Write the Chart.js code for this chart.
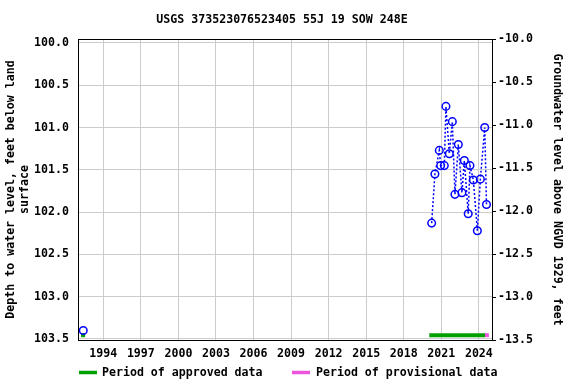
<!DOCTYPE html>
<html>
<head>
<meta charset="utf-8">
<script src="https://cdn.jsdelivr.net/npm/chart.js@4"></script>
<style>
  html, body { margin: 0; padding: 0; background: #fff; }
  #box { width: 576px; height: 384px; position: relative; }
</style>
</head>
<body>
<div id="box"><canvas id="c"></canvas></div>
<script>
// Niveaux d'eau — puits USGS 373523076523405 (55J 19 SOW 248E)
var TITRE = "USGS 373523076523405 55J 19 SOW 248E";
var ANNEES_TICKS = [1994, 1997, 2000, 2003, 2006, 2009, 2012, 2015, 2018, 2021, 2024];
var PROF_TICKS = [100.0, 100.5, 101.0, 101.5, 102.0, 102.5, 103.0, 103.5];
var ALT_TICKS = [-10.0, -10.5, -11.0, -11.5, -12.0, -12.5, -13.0, -13.5];

// mesure isolée du début
var ANCIEN_DATES = [1992.40];
var ANCIEN_PROF = [103.40];
// série récente (reliée en pointillé)
var DATES = [2020.23, 2020.49, 2020.84, 2020.95, 2021.24, 2021.37, 2021.64, 2021.88, 2022.09, 2022.36,
             2022.65, 2022.84, 2023.15, 2023.29, 2023.56, 2023.88, 2024.12, 2024.47, 2024.61];
var PROF = [102.13, 101.55, 101.27, 101.45, 101.45, 100.75, 101.31, 100.93, 101.79, 101.20,
            101.77, 101.39, 102.02, 101.45, 101.62, 102.22, 101.61, 101.00, 101.91];

// périodes approuvées / provisoires (début, fin)
var APPROUVE = [[1992.22, 1992.55], [2020.04, 2024.49]];
var PROVISOIRE = [[2024.49, 2024.80]];
var NIVEAU_BANDE = 103.455;
var LEGENDE = ["Period of approved data", "Period of provisional data"];

var BLEU = "#0000ff", VERT = "#00a000", ROSE = "#ee55dd", GRILLE = "#cccccc";
var POLICE = "'DejaVu Sans Mono', monospace";

function pts(xs, ys) { return xs.map(function (x, i) { return { x: x, y: ys[i] }; }); }
function bande(p, coul) {
  return { data: [{ x: p[0], y: NIVEAU_BANDE }, { x: p[1], y: NIVEAU_BANDE }], borderColor: coul, borderWidth: 4,
           pointRadius: 0, showLine: true, borderCapStyle: "butt", yAxisID: "y", order: 5 };
}

var datasets = [];
APPROUVE.forEach(function (p) { datasets.push(bande(p, VERT)); });
PROVISOIRE.forEach(function (p) { datasets.push(bande(p, ROSE)); });
datasets.push({ data: pts(ANCIEN_DATES, ANCIEN_PROF), showLine: false, pointRadius: 3.8, pointBorderWidth: 1.5,
  pointBorderColor: BLEU, pointBackgroundColor: "rgba(0,0,0,0)", yAxisID: "y", order: 1 });
datasets.push({ data: pts(DATES, PROF), showLine: true, borderColor: BLEU, borderWidth: 1.5, borderDash: [2, 2],
  pointRadius: 3.8, pointBorderWidth: 1.5, pointBorderColor: BLEU, pointBackgroundColor: "rgba(0,0,0,0)",
  yAxisID: "y", order: 1 });

var police = { family: POLICE, size: 11.6, weight: "bold" };

var habillage = {
  id: "habillage",
  afterDraw: function (ch) {
    var ctx = ch.ctx, a = ch.chartArea;
    ctx.save();
    ctx.strokeStyle = "#000"; ctx.lineWidth = 1;
    ctx.strokeRect(Math.round(a.left) + 0.5, Math.round(a.top) + 0.5, Math.round(a.right - a.left), Math.round(a.bottom - a.top));
    ctx.fillStyle = "#000";
    ctx.font = "bold 11.6px " + POLICE;
    ctx.textAlign = "center"; ctx.textBaseline = "middle";
    ctx.fillText(TITRE, 282, 20);
    // légende
    ctx.textAlign = "left";
    ctx.lineWidth = 3.5;
    ctx.strokeStyle = VERT; ctx.beginPath(); ctx.moveTo(79, 372.5); ctx.lineTo(97, 372.5); ctx.stroke();
    ctx.fillText(LEGENDE[0], 102, 373);
    ctx.strokeStyle = ROSE; ctx.beginPath(); ctx.moveTo(292, 372.5); ctx.lineTo(310, 372.5); ctx.stroke();
    ctx.fillText(LEGENDE[1], 316, 373);
    ctx.restore();
  }
};

new Chart(document.getElementById("c"), {
  type: "scatter",
  data: { datasets: datasets },
  plugins: [habillage],
  options: {
    responsive: true, maintainAspectRatio: false, animation: false,
    layout: { padding: { top: 39, left: 0, right: 0, bottom: 0 } },
    plugins: { legend: { display: false }, tooltip: { enabled: false } },
    scales: {
      x: {
        type: "linear", position: "bottom", min: 1991.98, max: 2025.05,
        afterBuildTicks: function (s) { s.ticks = ANNEES_TICKS.map(function (v) { return { value: v }; }); },
        afterFit: function (s) { s.height = 44; },
        ticks: { font: police, color: "#000", padding: 7, maxRotation: 0, autoSkip: false,
                 callback: function (v) { return String(v); } },
        grid: { color: GRILLE, drawTicks: false },
        border: { display: false }
      },
      y: {
        position: "left", reverse: true, min: 99.953, max: 103.512,
        afterBuildTicks: function (s) { s.ticks = PROF_TICKS.map(function (v) { return { value: v }; }); },
        afterFit: function (s) { s.width = 78; },
        ticks: { font: police, color: "#000", padding: 9, autoSkip: false,
                 callback: function (v) { return v.toFixed(1); } },
        grid: { color: GRILLE, drawTicks: false },
        border: { display: false },
        title: { display: true, text: ["Depth to water level, feet below land", "surface"], font: police, color: "#000",
                 padding: { top: 4, bottom: 0 } }
      },
      y2: {
        position: "right", min: -13.5, max: -10.0,
        afterBuildTicks: function (s) { s.ticks = ALT_TICKS.map(function (v) { return { value: v }; }); },
        afterFit: function (s) { s.width = 84; },
        ticks: { font: police, color: "#000", padding: 2, autoSkip: false,
                 callback: function (v) { return v.toFixed(1); } },
        grid: { drawOnChartArea: false, drawTicks: true, tickLength: 4, color: "#000" },
        border: { display: false },
        title: { display: true, text: "Groundwater level above NGVD 1929, feet", font: police, color: "#000",
                 padding: { top: 12, bottom: 0 } }
      }
    }
  }
});
</script>
</body>
</html>
